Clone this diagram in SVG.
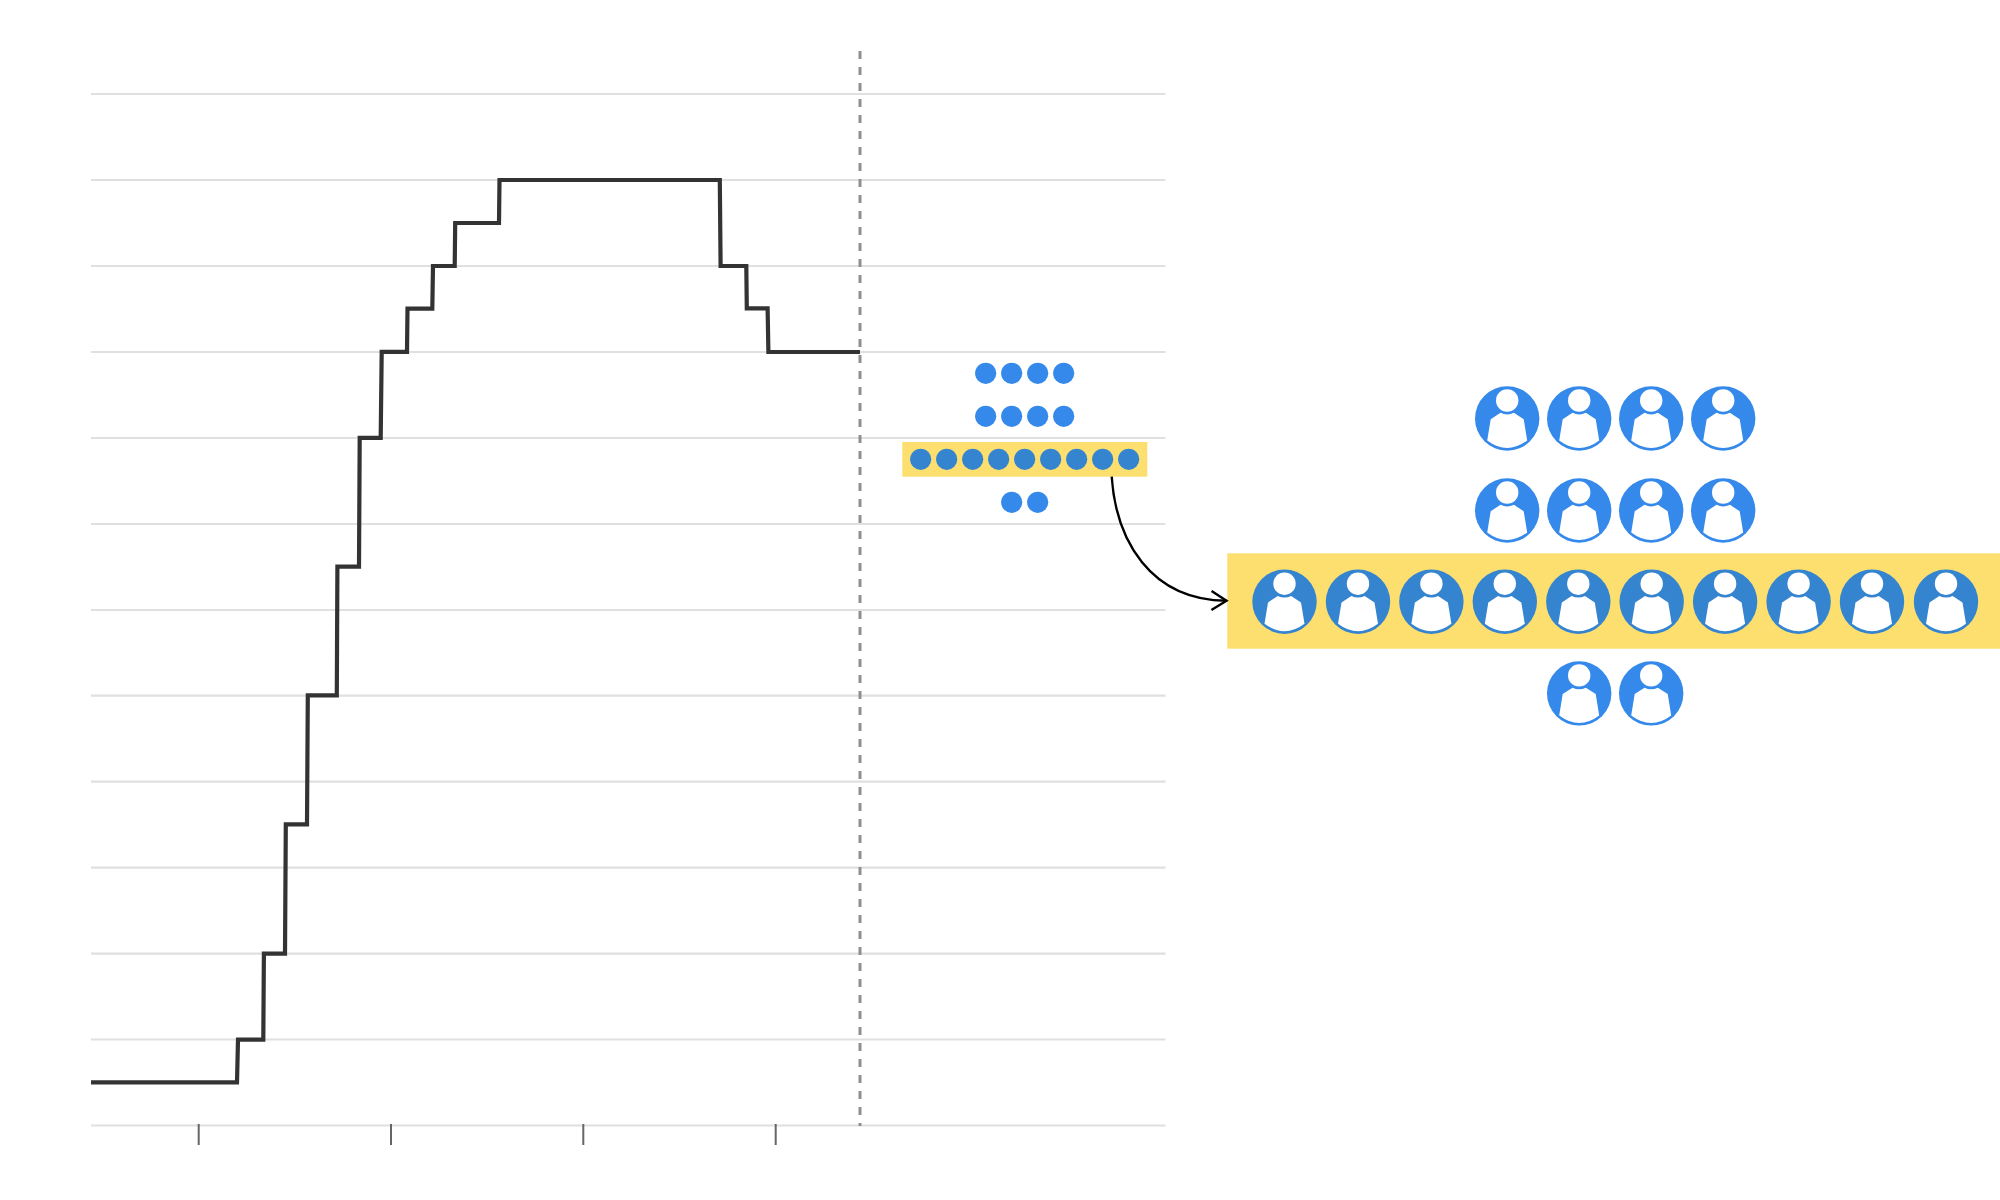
<svg xmlns="http://www.w3.org/2000/svg" xmlns:xlink="http://www.w3.org/1999/xlink" width="2000" height="1200" viewBox="0 0 2000 1200">
<style>
.grid{stroke:#e0e0e0;stroke-width:2.2;fill:none}
.tick{stroke:#666;stroke-width:2;fill:none}
.step{stroke:#333;stroke-width:4.2;fill:none;stroke-linejoin:miter}
.now{stroke:#8f8f8f;stroke-width:3;stroke-dasharray:8 8;fill:none}
.hl{fill:#fddf70}
.b{fill:#3489ea}
.d{fill:#3584cf}
.w{fill:#fff}
.arrow{stroke:#000;stroke-width:2.4;fill:none}
</style>
<defs>
<g id="body"><circle class="w" cx="0" cy="-18" r="11.2"/><path class="w" d="M-20 22L-16.5 .7L-6.7-5.7Q0-2.5 6.7-5.7L16.5 .7L20 22Q10 29.5 0 29.5Q-10 29.5-20 22Z"/></g>
<g id="p"><circle class="b" r="32.2"/><use href="#body"/></g>
<g id="q"><circle class="d" r="32.2"/><use href="#body"/></g>
<marker id="head" markerUnits="userSpaceOnUse" markerWidth="24" markerHeight="28" refX="16" refY="10.5" orient="auto" viewBox="0 0 24 28"><path d="M1 1L16 10.5L1 20" class="arrow"/></marker>
</defs>
<g id="grid">
<path class="grid" d="M91 94H1165.5M91 180H1165.5M91 266H1165.5M91 352H1165.5M91 438H1165.5M91 524H1165.5M91 610H1165.5M91 695.6H1165.5M91 781.6H1165.5M91 867.6H1165.5M91 953.6H1165.5M91 1039.5H1165.5M91 1125.5H1165.5"/>
</g>
<g id="ticks"><path class="tick" d="M198.7 1124V1145M391 1124V1145M583.3 1124V1145M775.7 1124V1145"/></g>
<g id="line-chart">
<path class="step" d="M91 1082.3H237L238 1039.6H263.3L263.9 953.6H285L285.8 824.3H307L307.8 695.3H336.8L337.4 566.7H359L359.7 437.8H380.7L381.7 351.8H407L407.5 308.6H432.3L433 266H454.7L455.2 223H499L499.5 180H719.8L720.6 266H746.3L746.8 308.3H767.6L768.4 352H860"/>
</g>
<g id="now-line"><path class="now" d="M860 51V1126"/></g>
<g id="dots">
<rect class="hl" x="902.3" y="442" width="245" height="34.7"/>
<g class="b"><circle cx="985.7" cy="373.3" r="10.6"/><circle cx="1011.7" cy="373.3" r="10.6"/><circle cx="1037.7" cy="373.3" r="10.6"/><circle cx="1063.7" cy="373.3" r="10.6"/>
<circle cx="985.7" cy="416.3" r="10.6"/><circle cx="1011.7" cy="416.3" r="10.6"/><circle cx="1037.7" cy="416.3" r="10.6"/><circle cx="1063.7" cy="416.3" r="10.6"/>
<circle cx="1011.7" cy="502.3" r="10.6"/><circle cx="1037.7" cy="502.3" r="10.6"/></g>
<g class="d"><circle cx="920.7" cy="459.3" r="10.6"/><circle cx="946.7" cy="459.3" r="10.6"/><circle cx="972.7" cy="459.3" r="10.6"/><circle cx="998.7" cy="459.3" r="10.6"/><circle cx="1024.7" cy="459.3" r="10.6"/><circle cx="1050.7" cy="459.3" r="10.6"/><circle cx="1076.7" cy="459.3" r="10.6"/><circle cx="1102.7" cy="459.3" r="10.6"/><circle cx="1128.7" cy="459.3" r="10.6"/></g>
</g>
<g id="people">
<rect class="hl" x="1227.3" y="553.3" width="772.7" height="95.4"/>
<use href="#p" x="1507.2" y="418.5"/><use href="#p" x="1579.2" y="418.5"/><use href="#p" x="1651.2" y="418.5"/><use href="#p" x="1723.2" y="418.5"/>
<use href="#p" x="1507.2" y="510.5"/><use href="#p" x="1579.2" y="510.5"/><use href="#p" x="1651.2" y="510.5"/><use href="#p" x="1723.2" y="510.5"/>
<use href="#q" x="1284.5" y="601.7"/><use href="#q" x="1358" y="601.7"/><use href="#q" x="1431.4" y="601.7"/><use href="#q" x="1504.8" y="601.7"/><use href="#q" x="1578.3" y="601.7"/><use href="#q" x="1651.7" y="601.7"/><use href="#q" x="1725.1" y="601.7"/><use href="#q" x="1798.6" y="601.7"/><use href="#q" x="1872" y="601.7"/><use href="#q" x="1946" y="601.7"/>
<use href="#p" x="1579.2" y="693.4"/><use href="#p" x="1651.2" y="693.4"/>
</g>
<g id="connectors"><path class="arrow" marker-end="url(#head)" d="M1111.7 476.7C1116 540 1150 600 1226.5 600.7"/></g>
</svg>
